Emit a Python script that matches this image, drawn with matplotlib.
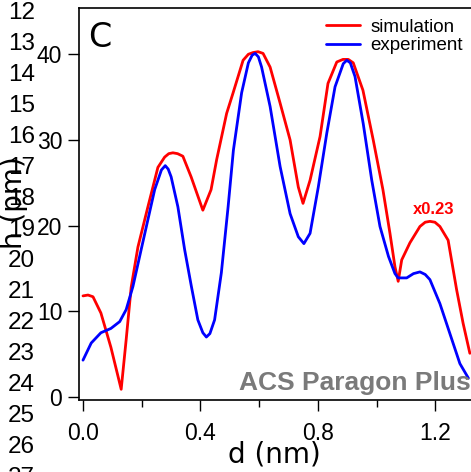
import numpy as np
import matplotlib
matplotlib.use("Agg")
import matplotlib.pyplot as plt

# simulation (red)
d_sim = [0.0, 0.017, 0.034, 0.061, 0.095, 0.13, 0.147, 0.164, 0.187, 0.221, 0.255, 0.278,
         0.292, 0.306, 0.322, 0.34, 0.368, 0.408, 0.436, 0.455, 0.489, 0.511, 0.545, 0.563,
         0.579, 0.596, 0.613, 0.637, 0.671, 0.705, 0.733, 0.749, 0.773, 0.807, 0.834, 0.864,
         0.885, 0.903, 0.92, 0.953, 0.988, 1.021, 1.045, 1.062, 1.073, 1.085, 1.113, 1.147,
         1.165, 1.181, 1.198, 1.215, 1.243, 1.272, 1.294, 1.317]
h_sim = [11.8, 11.9, 11.7, 9.8, 5.8, 0.9, 6.7, 12.8, 17.5, 22.2, 26.8, 28.0,
         28.4, 28.5, 28.4, 28.1, 25.7, 21.8, 24.2, 27.7, 33.1, 35.5, 39.3, 40.0,
         40.2, 40.3, 40.1, 38.5, 34.3, 30.0, 24.5, 22.6, 25.3, 30.4, 36.6, 39.1,
         39.4, 39.4, 39.0, 35.8, 30.0, 24.2, 19.1, 15.2, 13.5, 16.0, 18.0, 19.9,
         20.4, 20.5, 20.4, 19.9, 18.3, 12.5, 8.6, 5.1]

# experiment (blue)
d_exp = [0.0, 0.028, 0.061, 0.095, 0.125, 0.147, 0.17, 0.198, 0.221, 0.244, 0.267, 0.28,
         0.29, 0.3, 0.323, 0.346, 0.369, 0.391, 0.408, 0.42, 0.432, 0.448, 0.471, 0.494,
         0.512, 0.54, 0.563, 0.576, 0.586, 0.597, 0.608, 0.637, 0.671, 0.705, 0.733, 0.752,
         0.773, 0.801, 0.83, 0.858, 0.886, 0.898, 0.91, 0.926, 0.954, 0.983, 1.011, 1.04,
         1.062, 1.073, 1.102, 1.125, 1.147, 1.165, 1.181, 1.215, 1.249, 1.283, 1.312]
h_exp = [4.3, 6.3, 7.5, 8.0, 8.8, 10.2, 12.9, 17.2, 20.7, 24.2, 26.5, 27.0,
         26.6, 25.7, 22.2, 17.2, 12.9, 9.0, 7.5, 7.0, 7.4, 9.0, 14.5, 22.2,
         28.8, 35.5, 39.0, 39.9, 40.1, 39.7, 38.5, 33.9, 26.9, 21.4, 18.7, 17.9,
         19.1, 24.5, 30.8, 36.2, 38.9, 39.3, 39.0, 37.4, 31.9, 25.3, 19.9, 16.4,
         14.4, 13.9, 13.9, 14.4, 14.6, 14.3, 13.7, 10.9, 7.4, 3.9, 2.2]

xticks = [0.0, 0.4, 0.8, 1.2]
yticks = [0, 10, 20, 30, 40]
line_numbers = list(range(12, 28))

W, H = 471, 472
fig = plt.figure(figsize=(W / 100, H / 100), dpi=100)
ax = fig.add_axes([79 / W, 1 - 400 / H, (482 - 79) / W, (400 - 8) / H])

ax.plot(d_sim, h_sim, color="#ff0000", lw=2.0, label="simulation",
        solid_joinstyle="round", solid_capstyle="round")
ax.plot(d_exp, h_exp, color="#0000ff", lw=2.0, label="experiment",
        solid_joinstyle="round", solid_capstyle="round")

ax.set_xlim(-0.0136, (482 - 83) / 293.75)
ax.set_ylim(-0.35, 45.4)
ax.set_xticks(xticks)
ax.set_xticks([0.2, 0.6, 1.0], minor=True)
ax.set_xticklabels(["0.0", "0.4", "0.8", "1.2"])
ax.set_yticks(yticks)
for lab in ax.get_xticklabels() + ax.get_yticklabels():
    lab.set_family("Liberation Sans")
    lab.set_fontsize(16.5)
ax.tick_params(axis="both", which="major", direction="out", length=8, width=1, pad=4)
ax.tick_params(axis="x", which="major", pad=8)
ax.tick_params(axis="x", which="minor", direction="out", length=5, width=1)
for s in ax.spines.values():
    s.set_linewidth(1.2)

ax.legend(loc="upper right", bbox_to_anchor=(472 / W, 1 - 9 / H),
          bbox_transform=fig.transFigure, frameon=False,
          prop={"family": "Liberation Sans", "size": 13.5},
          handlelength=1.8, handletextpad=0.55, labelspacing=0.1, borderpad=0)

fig.text(88 / W, 1 - 47 / H, "C", fontsize=24, family="DejaVu Sans", va="baseline")
fig.text(434 / W, 1 - 209 / H, "x0.23", color="#ff0000", fontsize=12, fontweight="bold",
         family="Liberation Sans", ha="center", va="center")
fig.text(239 / W, 1 - 390 / H, "ACS Paragon Plus", color="#7a7a7a", fontsize=19,
         fontweight="bold", family="Liberation Sans", va="baseline")

fig.text(228 / W, 1 - 463 / H, "d (nm)", fontsize=20, family="DejaVu Sans", va="baseline")
fig.text(14 / W, 1 - 203 / H, "h (pm)", fontsize=20, family="DejaVu Sans",
         rotation=90, ha="center", va="center")

for i, n in enumerate(line_numbers):
    fig.text(8 / W, 1 - (13 + 31 * i) / H, str(n), fontsize=17.5,
             family="Liberation Sans", va="center")

fig.savefig("out.png", dpi=100)
